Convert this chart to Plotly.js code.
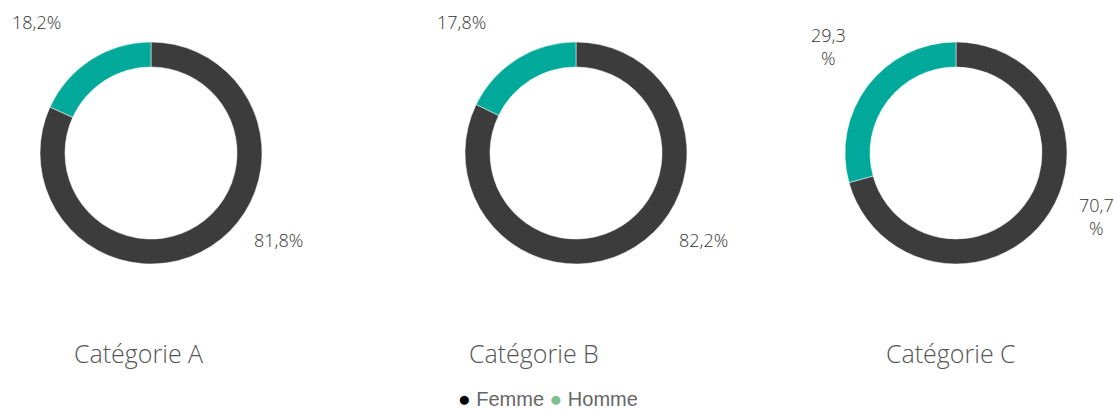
<!DOCTYPE html>
<html>
<head>
<meta charset="utf-8">
<script src="https://cdn.plot.ly/plotly-3.0.1.min.js"></script>
<style>html,body{margin:0;padding:0;background:#fff;}#chart{width:1114px;height:412px;}</style>
</head>
<body>
<div id="chart"></div>
<script>
// ---- data ----
const categories = ["Catégorie A", "Catégorie B", "Catégorie C"];
const seriesNames = ["Femme", "Homme"];
const femme = [81.8, 82.2, 70.7];
const homme = [18.2, 17.8, 29.3];
const wrapLabels = [false, false, true];

// ---- styles ----
const W = 1114, H = 412;
const colors = ["#3c3c3c", "#00a99a"];
const legendColors = ["#000000", "#7fbf8f"];
const pieCenters = [[151, 153], [576, 153], [956, 153]]; // px
const pieR = 111;
const titleX = [138, 534, 951];
const titleY = 353;
// label offsets (px from pie centre) for [Femme, Homme]
const labelOffsets = [
  [[127, 87], [-115, -131]],
  [[127, 87], [-115, -131]],
  [[140, 63], [-128, -106]]
];
const lightFont = 'Open Sans, sans-serif';

function fmt(v, wrap) {
  const s = v.toFixed(1).replace('.', ',');
  return wrap ? s + '<br>%' : s + '%';
}

const traces = [];
const annotations = [];
categories.forEach((cat, i) => {
  const [cx, cy] = pieCenters[i];
  traces.push({
    type: 'pie',
    labels: seriesNames,
    values: [femme[i], homme[i]],
    sort: false,
    direction: 'clockwise',
    rotation: 0,
    hole: 0.775,
    textinfo: 'none',
    hoverinfo: 'label+percent',
    marker: { colors: colors, line: { color: '#ffffff', width: 0.5 } },
    showlegend: false,
    domain: {
      x: [(cx - pieR) / W, (cx + pieR) / W],
      y: [(H - cy - pieR) / H, (H - cy + pieR) / H]
    }
  });
  const vals = [femme[i], homme[i]];
  vals.forEach((v, j) => {
    const [dx, dy] = labelOffsets[i][j];
    annotations.push({
      xref: 'paper', yref: 'paper',
      x: (cx + dx) / W, y: (H - (cy + dy)) / H,
      xanchor: 'center', yanchor: 'middle',
      text: fmt(v, wrapLabels[i]),
      showarrow: false,
      font: { family: lightFont, size: 18, weight: 300, color: '#333333' }
    });
  });
  annotations.push({
    xref: 'paper', yref: 'paper',
    x: titleX[i] / W, y: (H - titleY) / H,
    xanchor: 'center', yanchor: 'middle',
    text: cat, showarrow: false,
    font: { family: lightFont, size: 25, weight: 300, color: '#555555' }
  });
});

// legend
annotations.push({
  xref: 'paper', yref: 'paper',
  x: 548 / W, y: 0,
  xanchor: 'center', yanchor: 'bottom',
  showarrow: false,
  text: seriesNames.map((n, j) =>
    `<span style="color:${legendColors[j]};font-size:21px">●</span> ${n}`).join(' '),
  font: { family: 'Liberation Sans, Arial, sans-serif', size: 20, color: '#666666' }
});

const layout = {
  width: W, height: H,
  margin: { l: 0, r: 0, t: 0, b: 0 },
  paper_bgcolor: '#ffffff',
  showlegend: false,
  annotations: annotations
};

Plotly.newPlot('chart', traces, layout, { displayModeBar: false, staticPlot: true });
</script>
</body>
</html>
